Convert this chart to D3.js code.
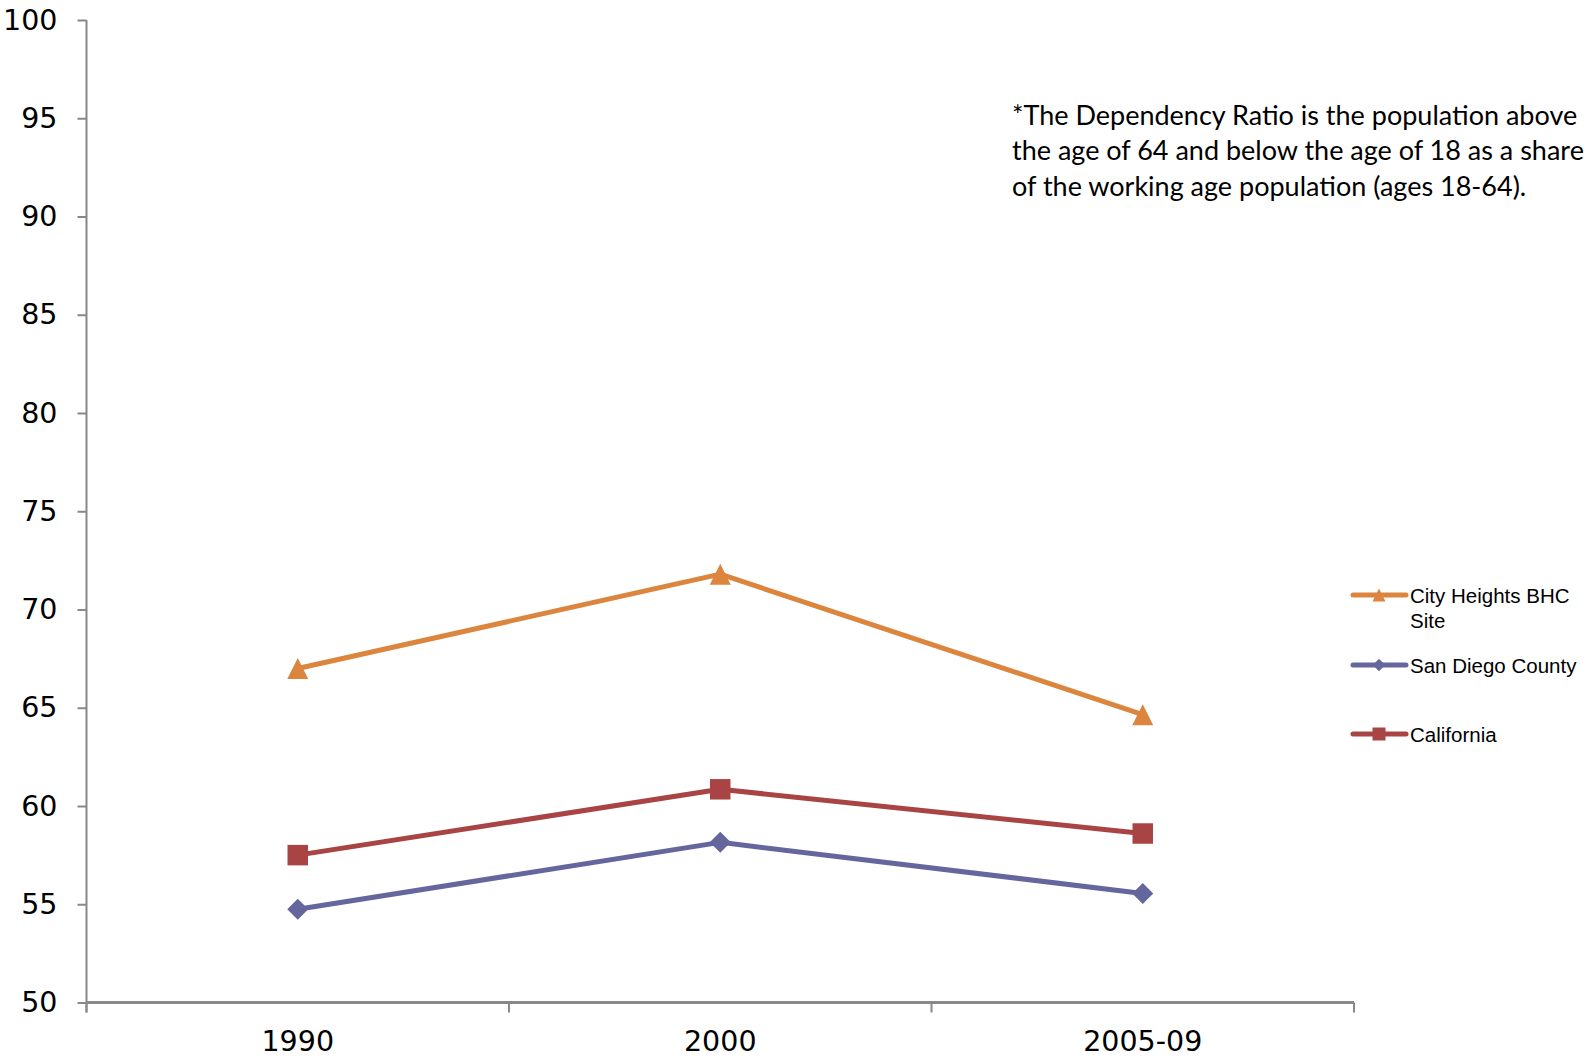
<!DOCTYPE html>
<html><head><meta charset="utf-8">
<script src="https://cdnjs.cloudflare.com/ajax/libs/d3/7.8.5/d3.min.js"></script>
<style>html,body{margin:0;padding:0;background:#fff;}svg{display:block;}</style>
</head><body>
<svg id="c" width="1589" height="1062"></svg>
<script>
const categories = ["1990", "2000", "2005-09"];
const cityHeights = [67.0, 71.8, 64.65];
const sanDiego = [54.75, 58.15, 55.55];
const california = [57.5, 60.85, 58.6];
const seriesNames = ["City Heights BHC Site", "San Diego County", "California"];
const yTicks = [50, 55, 60, 65, 70, 75, 80, 85, 90, 95, 100];
const noteLines = [
  "*The Dependency Ratio is the population above",
  "the age of 64 and below the age of 18 as a share",
  "of the working age population (ages 18-64)."
];

(function () {
const series = [
  {name: seriesNames[0], values: cityHeights, color: "#DC853F", marker: "triangle"},
  {name: seriesNames[1], values: sanDiego, color: "#66669E", marker: "diamond"},
  {name: seriesNames[2], values: california, color: "#A84544", marker: "square"}
];

const svg = d3.select("#c");
const pLeft = 86.5, pRight = 1354, pTop = 20, pBottom = 1002.5;
const x = d3.scaleBand().domain(categories).range([pLeft, pRight]);
const y = d3.scaleLinear().domain([50, 100]).range([pBottom, pTop]);
const axisColor = "#888";
const font = "'Liberation Sans', Arial, sans-serif";
const tickFont = "'DejaVu Sans', sans-serif";

// Y axis
const yAxis = svg.append("g").attr("transform", `translate(${pLeft},0)`)
  .call(d3.axisLeft(y).tickValues(yTicks).tickSize(9).tickPadding(20).tickFormat(d3.format("d")));
yAxis.select(".domain").attr("stroke", axisColor).attr("stroke-width", 2).attr("d", `M0,${pTop}V${pBottom + 10}`);
yAxis.selectAll(".tick line").attr("stroke", axisColor).attr("stroke-width", 2);
yAxis.selectAll(".tick text").attr("font-family", tickFont).attr("font-size", 28.5).attr("fill", "#000");

// X axis
const xAxis = svg.append("g").attr("transform", `translate(0,${pBottom})`)
  .call(d3.axisBottom(x).tickSize(0).tickPadding(28));
xAxis.select(".domain").attr("stroke", axisColor).attr("stroke-width", 3).attr("d", `M${pLeft},0H${pRight}`);
xAxis.selectAll(".tick text").attr("font-family", tickFont).attr("font-size", 28.5).attr("fill", "#000");
const edges = categories.map(c => x(c)).concat([pRight]);
svg.append("g").selectAll("line").data(edges).join("line")
  .attr("x1", d => d).attr("x2", d => d)
  .attr("y1", pBottom).attr("y2", pBottom + 10)
  .attr("stroke", axisColor).attr("stroke-width", 2);

// Custom marker shapes (size = box edge length)
const shapes = {
  triangle: {draw(ctx, s) { const h = s / 2; ctx.moveTo(0, -h); ctx.lineTo(h, h); ctx.lineTo(-h, h); ctx.closePath(); }},
  diamond: {draw(ctx, s) { const h = s / 2; ctx.moveTo(0, -h); ctx.lineTo(h, 0); ctx.lineTo(0, h); ctx.lineTo(-h, 0); ctx.closePath(); }},
  square: {draw(ctx, s) { const h = s / 2; ctx.rect(-h, -h, s, s); }}
};
const bigSize = {triangle: 21, diamond: 21, square: 20.5};
const smallSize = {triangle: 13, diamond: 12.5, square: 13};

const cx = c => x(c) + x.bandwidth() / 2;
const line = d3.line().x((d, i) => cx(categories[i])).y(d => y(d));
series.forEach(s => {
  svg.append("path").datum(s.values).attr("d", line)
    .attr("fill", "none").attr("stroke", s.color).attr("stroke-width", 5).attr("stroke-linejoin", "round");
  svg.append("g").selectAll("path").data(s.values).join("path")
    .attr("d", d3.symbol().type(shapes[s.marker]).size(bigSize[s.marker]))
    .attr("transform", (d, i) => `translate(${cx(categories[i])},${y(d)})`)
    .attr("fill", s.color);
});

// Legend
const legendY = [595, 665, 734];
const lg = svg.append("g");
series.forEach((s, i) => {
  const g = lg.append("g").attr("transform", `translate(0,${legendY[i]})`);
  g.append("line").attr("x1", 1353).attr("x2", 1406).attr("y1", 0).attr("y2", 0)
    .attr("stroke", s.color).attr("stroke-width", 5).attr("stroke-linecap", "round");
  g.append("path").attr("d", d3.symbol().type(shapes[s.marker]).size(smallSize[s.marker]))
    .attr("transform", `translate(1379,0)`).attr("fill", s.color);
  const t = g.append("text").attr("x", 1410).attr("y", 8).attr("font-family", font)
    .attr("font-size", 20.5).attr("fill", "#000");
  if (i === 0) {
    t.append("tspan").attr("x", 1410).text("City Heights BHC");
    t.append("tspan").attr("x", 1410).attr("dy", 24.5).text("Site");
  } else {
    t.text(s.name);
  }
});

// Note
const note = svg.append("text").attr("font-family", "Lato, 'Open Sans', sans-serif")
  .attr("font-size", 27).attr("fill", "#000");
noteLines.forEach((l, i) => {
  note.append("tspan").attr("x", 1012).attr("y", 124.5 + i * 35.5).text(l);
});
})();
</script>
</body></html>
